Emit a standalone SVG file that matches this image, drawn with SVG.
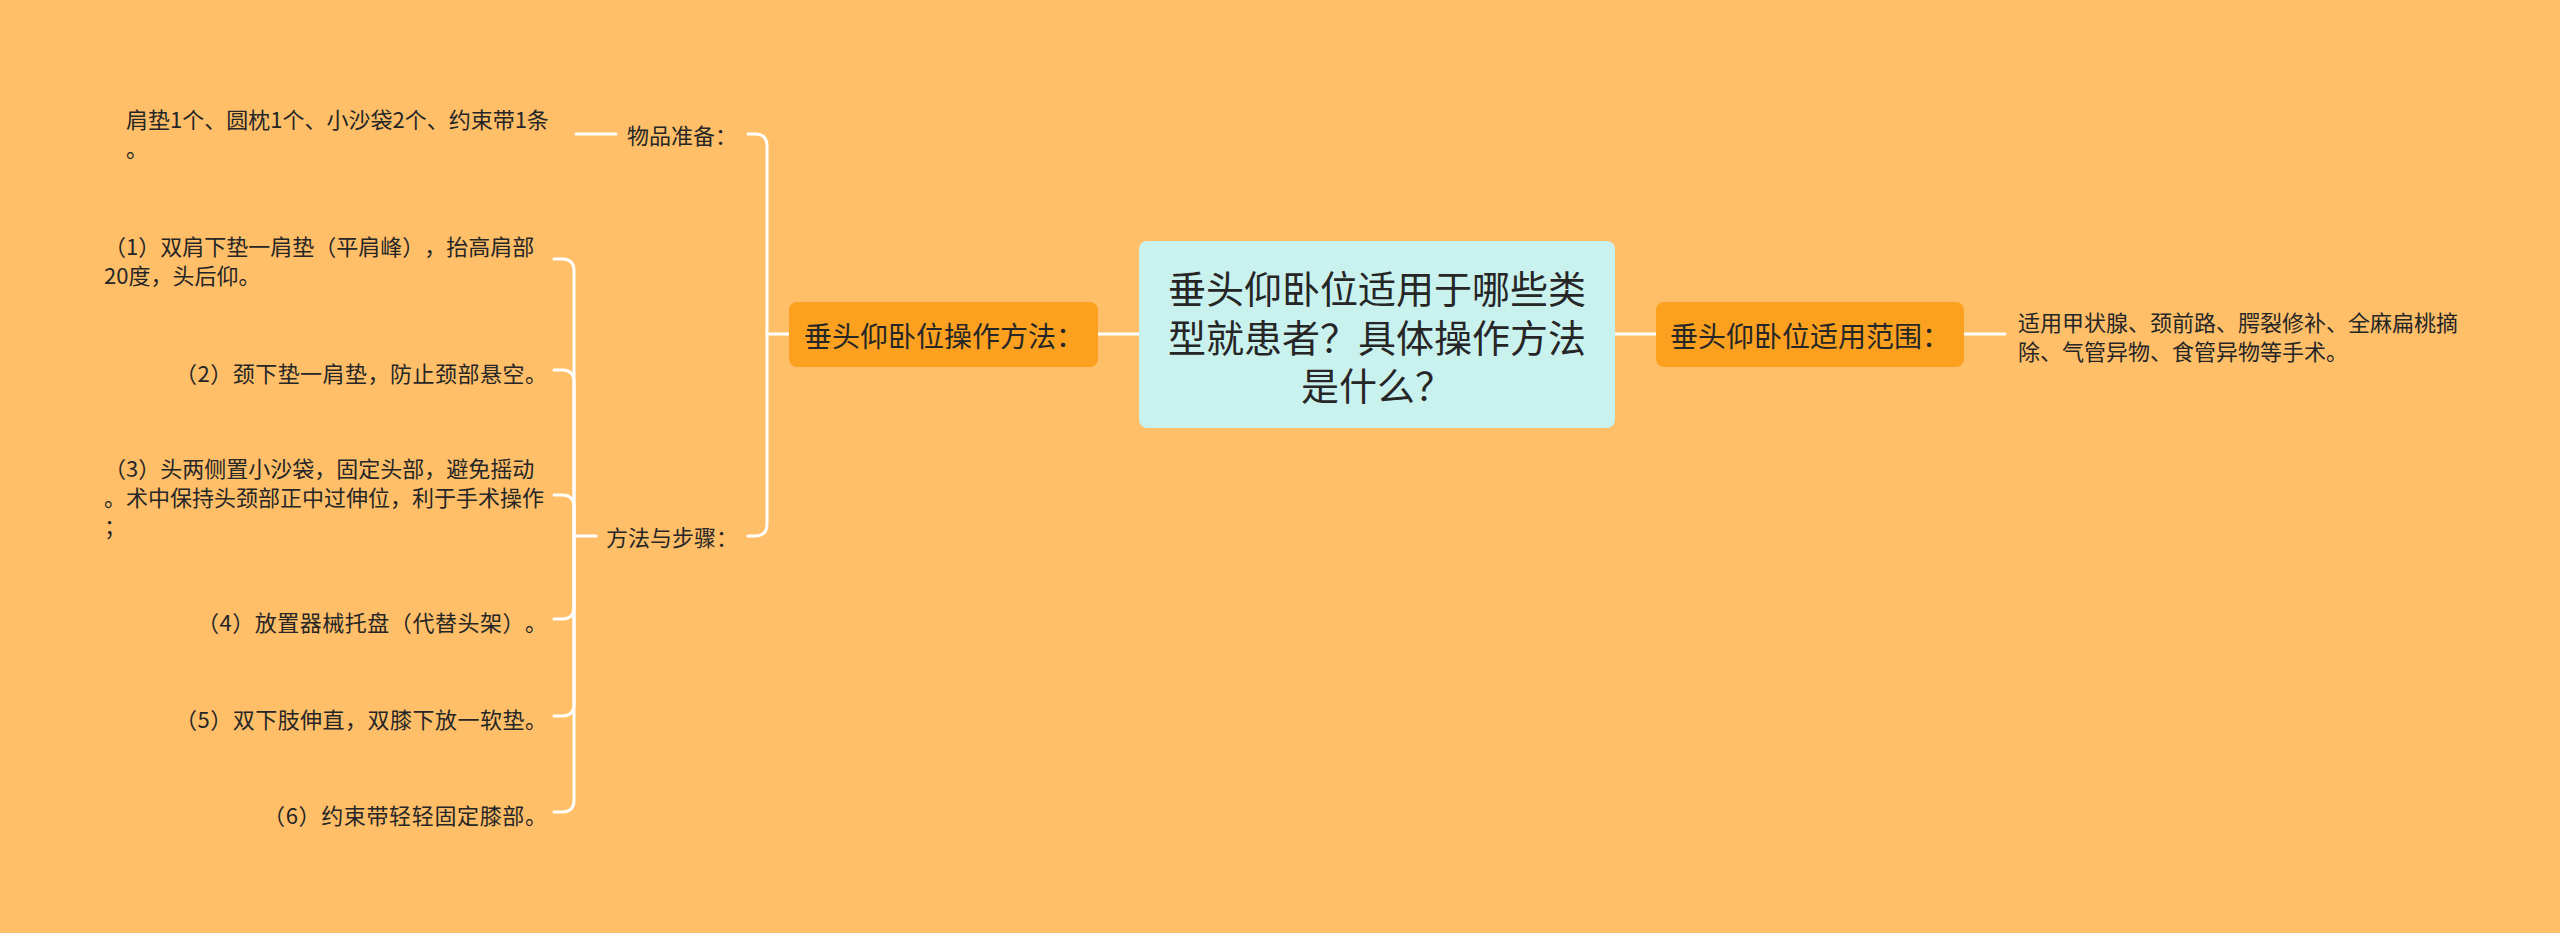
<svg xmlns="http://www.w3.org/2000/svg" width="2560" height="933" viewBox="0 0 2560 933">
<style>
.bg{fill:#ffbf69}
.c{fill:none;stroke:#ffffff;stroke-width:3;stroke-linecap:round}
.t{font-family:"Noto Sans CJK SC","Noto Sans",sans-serif;fill:#262626;dominant-baseline:central;text-spacing-trim:space-all;font-feature-settings:"chws" 0,"halt" 0}
.leaf{font-size:22px}
.mid{font-size:22px}
.main{font-size:28px}
.root{font-size:38px}
.box{fill:#fba11f}
.rootbox{fill:#c9f1ee}
</style>
<rect class="bg" x="0" y="0" width="2560" height="933"/>
<g id="connectors">
<path class="c" d="M1139 334 H1098"/>
<path class="c" d="M1615 334 H1656"/>
<path class="c" d="M1964 334 H2005"/>
<path class="c" d="M789 334 H767"/>
<path class="c" d="M767 334 V146 Q767 134 755 134 H748"/>
<path class="c" d="M767 334 V524 Q767 536 755 536 H748"/>
<path class="c" d="M616 134 H576"/>
<path class="c" d="M596 536 H574"/>
<path class="c" d="M574 536 V271 Q574 259 562 259 H554"/>
<path class="c" d="M574 536 V382 Q574 370 562 370 H554"/>
<path class="c" d="M574 536 V507 Q574 495 562 495 H554"/>
<path class="c" d="M574 536 V607 Q574 619 562 619 H554"/>
<path class="c" d="M574 536 V704 Q574 716 562 716 H554"/>
<path class="c" d="M574 536 V800 Q574 812 562 812 H554"/>
</g>
<g id="root">
<rect class="rootbox" x="1139" y="241" width="476" height="187" rx="8"/>
<text class="t root" text-anchor="middle"><tspan x="1377" y="286">垂头仰卧位适用于哪些类</tspan><tspan x="1377" y="334.5">型就患者？具体操作方法</tspan><tspan x="1377" y="383">是什么？</tspan></text>
</g>
<g id="method">
<rect class="box" x="789" y="302" width="309" height="65" rx="8"/>
<text class="t main" x="804" y="334.5">垂头仰卧位操作方法：</text>
</g>
<g id="scope">
<rect class="box" x="1656" y="302" width="308" height="65" rx="8"/>
<text class="t main" x="1670" y="334.5">垂头仰卧位适用范围：</text>
</g>
<g id="scope-detail">
<text class="t leaf"><tspan x="2018" y="321">适用甲状腺、颈前路、腭裂修补、全麻扁桃摘</tspan><tspan x="2018" y="350">除、气管异物、食管异物等手术。</tspan></text>
</g>
<g id="items">
<text class="t mid" x="627" y="134">物品准备：</text>
</g>
<g id="items-detail">
<text class="t leaf"><tspan x="126" y="118">肩垫1个、圆枕1个、小沙袋2个、约束带1条</tspan><tspan x="126" y="147">。</tspan></text>
</g>
<g id="steps">
<text class="t mid" x="606" y="536">方法与步骤：</text>
</g>
<g id="step1">
<text class="t leaf"><tspan x="104" y="245">（1）双肩下垫一肩垫（平肩峰），抬高肩部</tspan><tspan x="104" y="274">20度，头后仰。</tspan></text>
</g>
<g id="step2">
<text class="t leaf" x="547" y="372" text-anchor="end" textLength="372" lengthAdjust="spacing">（2）颈下垫一肩垫，防止颈部悬空。</text>
</g>
<g id="step3">
<text class="t leaf"><tspan x="104" y="467">（3）头两侧置小沙袋，固定头部，避免摇动</tspan><tspan x="104" y="496">。术中保持头颈部正中过伸位，利于手术操作</tspan><tspan x="104" y="525">；</tspan></text>
</g>
<g id="step4">
<text class="t leaf" x="547" y="621" text-anchor="end" textLength="350" lengthAdjust="spacing">（4）放置器械托盘（代替头架）。</text>
</g>
<g id="step5">
<text class="t leaf" x="547" y="718" text-anchor="end" textLength="372" lengthAdjust="spacing">（5）双下肢伸直，双膝下放一软垫。</text>
</g>
<g id="step6">
<text class="t leaf" x="547" y="814" text-anchor="end" textLength="284" lengthAdjust="spacing">（6）约束带轻轻固定膝部。</text>
</g>
</svg>
